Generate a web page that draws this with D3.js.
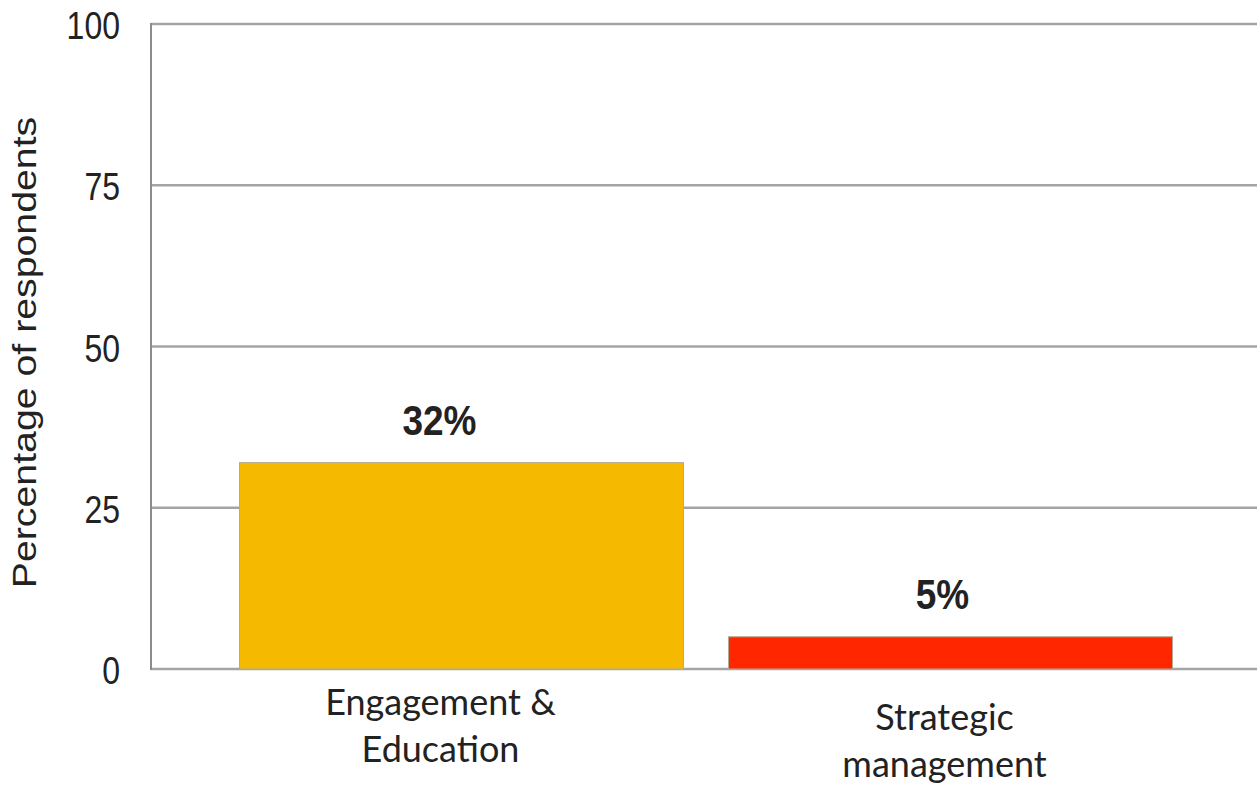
<!DOCTYPE html>
<html><head><meta charset="utf-8">
<script src="https://cdn.jsdelivr.net/npm/d3@7"></script>
<style>body{margin:0;background:#fff}svg{display:block}</style>
</head><body>
<script>
const categories = [["Engagement &", "Education"], ["Strategic", "management"]];
const values = [32, 5];
const valueLabels = ["32%", "5%"];
const colors = ["#F5B900", "#FF2600"];
const yTicks = [0, 25, 50, 75, 100];
const yTitle = "Percentage of respondents";

const W = 1257, H = 785, SY = 1.19;
const svg = d3.select("body").append("svg").attr("width", W).attr("height", H);
const x0 = 151, yTop = 24, yBot = 669;
const x = d3.scaleBand().domain(d3.range(values.length)).range([150, 1262]).paddingInner(0.092).paddingOuter(0.183);
const y = d3.scaleLinear().domain([0, 100]).range([yBot, yTop]);

// gridlines
svg.append("g").selectAll("line").data(yTicks).join("line")
  .attr("x1", x0).attr("x2", W).attr("y1", d => y(d)).attr("y2", d => y(d))
  .attr("stroke", "#a4a4a4").attr("stroke-width", 2.5);
// left axis line
svg.append("line").attr("x1", x0).attr("x2", x0).attr("y1", yTop - 1).attr("y2", yBot + 1)
  .attr("stroke", "#8c8c8c").attr("stroke-width", 2);

// tick labels
const yAxis = d3.axisLeft(y).tickValues(yTicks).tickSize(0);
const ga = svg.append("g").attr("transform", `translate(${x0},0)`).call(yAxis);
ga.select(".domain").remove();
ga.selectAll("text").attr("x", null).attr("dy", null).attr("y", null)
  .attr("transform", `translate(-31,14.5) scale(1,${SY})`)
  .attr("font-family", "Liberation Sans, Arial, sans-serif").attr("font-size", 32).attr("fill", "#222");

// bars
svg.append("g").selectAll("rect").data(values).join("rect")
  .attr("x", (d, i) => x(i)).attr("width", x.bandwidth())
  .attr("y", d => y(d)).attr("height", d => yBot - y(d))
  .attr("fill", (d, i) => colors[i]).attr("stroke", "#b4aa94").attr("stroke-width", 1);

// value labels
const valNudge = [-22, -8];
svg.append("g").selectAll("text").data(values).join("text")
  .attr("transform", (d, i) => `translate(${x(i) + x.bandwidth() / 2 + valNudge[i]},${y(d) - 28}) scale(1,${SY * 0.95})`)
  .attr("text-anchor", "middle").attr("font-family", "Liberation Sans, Arial, sans-serif")
  .attr("font-weight", "bold").attr("font-size", 37).attr("fill", "#222")
  .text((d, i) => valueLabels[i]);

// category labels
const catNudge = [[-21, 46], [-6, 61]];
categories.forEach((lines, i) => {
  const t = svg.append("text").attr("text-anchor", "middle")
    .attr("font-family", "Lato, sans-serif").attr("font-size", 36).attr("fill", "#222");
  lines.forEach((ln, j) => {
    t.append("tspan").attr("x", x(i) + x.bandwidth() / 2 + catNudge[i][0])
      .attr("y", yBot + catNudge[i][1] + j * 47).text(ln);
  });
});

// y title
svg.append("text").attr("transform", `translate(36,${(yTop + yBot) / 2 + 6}) scale(1,${SY}) rotate(-90)`)
  .attr("text-anchor", "middle").attr("font-family", "Liberation Sans, Arial, sans-serif")
  .attr("font-size", 33).attr("fill", "#222").text(yTitle);
</script>
</body></html>
